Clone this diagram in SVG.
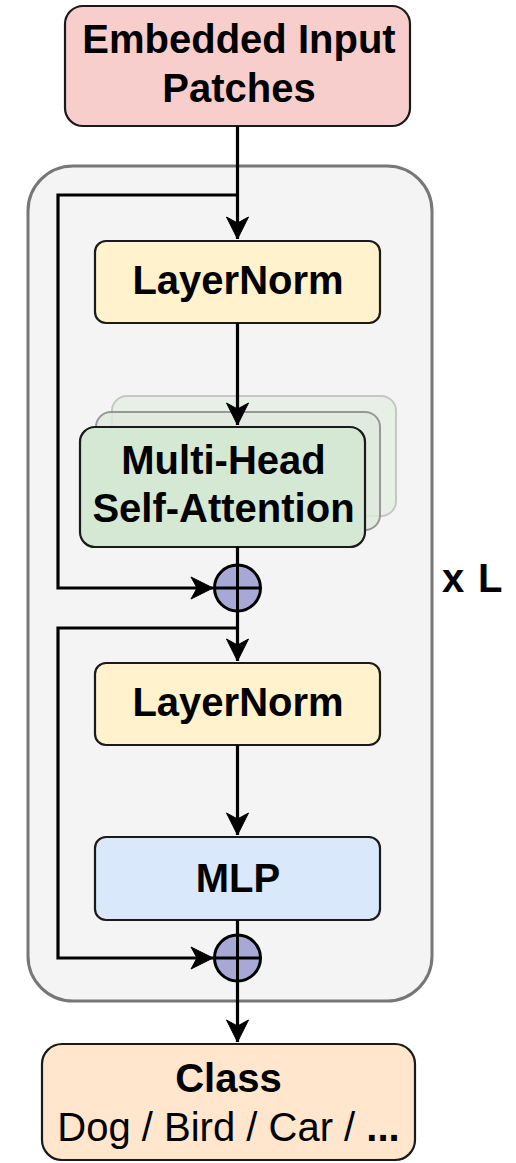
<svg xmlns="http://www.w3.org/2000/svg" width="516" height="1163" viewBox="0 0 516 1163">
<defs>
<style>
.box{stroke:#1a1a1a;stroke-width:2.2}
.t{font-family:"Liberation Sans",Arial,sans-serif;font-weight:bold;font-size:40px;fill:#000;text-anchor:middle}
.r{font-weight:normal}
.c{fill:none;stroke:#000;stroke-width:3.2}
</style>
<marker id="ah" viewBox="-23 -12 25 24" refX="0" refY="0" markerWidth="25" markerHeight="24" markerUnits="userSpaceOnUse" orient="auto">
<path d="M0,0 L-22,-11 L-16,0 L-22,11 Z" fill="#000" stroke="#000" stroke-width="1"/>
</marker>
</defs>
<rect width="516" height="1163" fill="#fff"/>
<g id="container">
<rect x="28" y="166" width="404" height="835" rx="45" fill="#f4f4f4" stroke="#777" stroke-width="3"/>
<text class="t" x="442" y="592" style="text-anchor:start">x <tspan x="478">L</tspan></text>
</g>
<g id="input">
<rect class="box" x="65" y="6" width="345" height="120" rx="18" fill="#f8cecc"/>
<text class="t" x="239" y="53">Embedded Input</text>
<text class="t" x="239" y="102">Patches</text>
</g>
<g id="layernorm1">
<rect class="box" x="95" y="241" width="285" height="82" rx="11" fill="#fff2cc"/>
<text class="t" x="238" y="294">LayerNorm</text>
</g>
<g id="mhsa">
<rect x="112" y="396" width="284" height="120" rx="15" fill="#e6efe5" stroke="#bbb" stroke-width="2" opacity="0.8"/>
<rect x="96" y="412" width="284" height="118" rx="15" fill="#dfeadd" stroke="#888" stroke-width="2" opacity="0.85"/>
<rect class="box" x="80" y="427" width="285" height="120" rx="15" fill="#d5e8d4"/>
<text class="t" x="223.5" y="474">Multi-Head</text>
<text class="t" x="223.5" y="522">Self-Attention</text>
</g>
<g id="add1">
<circle cx="237.5" cy="588" r="23" fill="#a8a8d6" stroke="#000" stroke-width="3"/>
<path d="M237.5,565 V611 M214.5,588 H260.5" stroke="#000" stroke-width="3"/>
</g>
<g id="layernorm2">
<rect class="box" x="95" y="663" width="285" height="82" rx="11" fill="#fff2cc"/>
<text class="t" x="238" y="716">LayerNorm</text>
</g>
<g id="mlp">
<rect class="box" x="95" y="837" width="285" height="83" rx="11" fill="#dae8fc"/>
<text class="t" x="238" y="892">MLP</text>
</g>
<g id="add2">
<circle cx="237.5" cy="958" r="23" fill="#a8a8d6" stroke="#000" stroke-width="3"/>
<path d="M237.5,935 V981 M214.5,958 H260.5" stroke="#000" stroke-width="3"/>
</g>
<g id="class">
<rect class="box" x="42" y="1044" width="373" height="116" rx="20" fill="#ffe6cc"/>
<text class="t" x="228.5" y="1092">Class</text>
<text class="t r" x="228.5" y="1141">Dog / Bird / Car / <tspan font-weight="bold">...</tspan></text>
</g>
<g id="connectors">
<path class="c" d="M237.5,126 V239" marker-end="url(#ah)"/>
<path class="c" d="M237.5,195 H58 V588 H213" marker-end="url(#ah)"/>
<path class="c" d="M237.5,323 V425" marker-end="url(#ah)"/>
<path class="c" d="M237.5,547 V565"/>
<path class="c" d="M237.5,611 V661" marker-end="url(#ah)"/>
<path class="c" d="M237.5,628 H58 V958 H213" marker-end="url(#ah)"/>
<path class="c" d="M237.5,745 V835" marker-end="url(#ah)"/>
<path class="c" d="M237.5,920 V935"/>
<path class="c" d="M237.5,981 V1042" marker-end="url(#ah)"/>
</g>
</svg>
